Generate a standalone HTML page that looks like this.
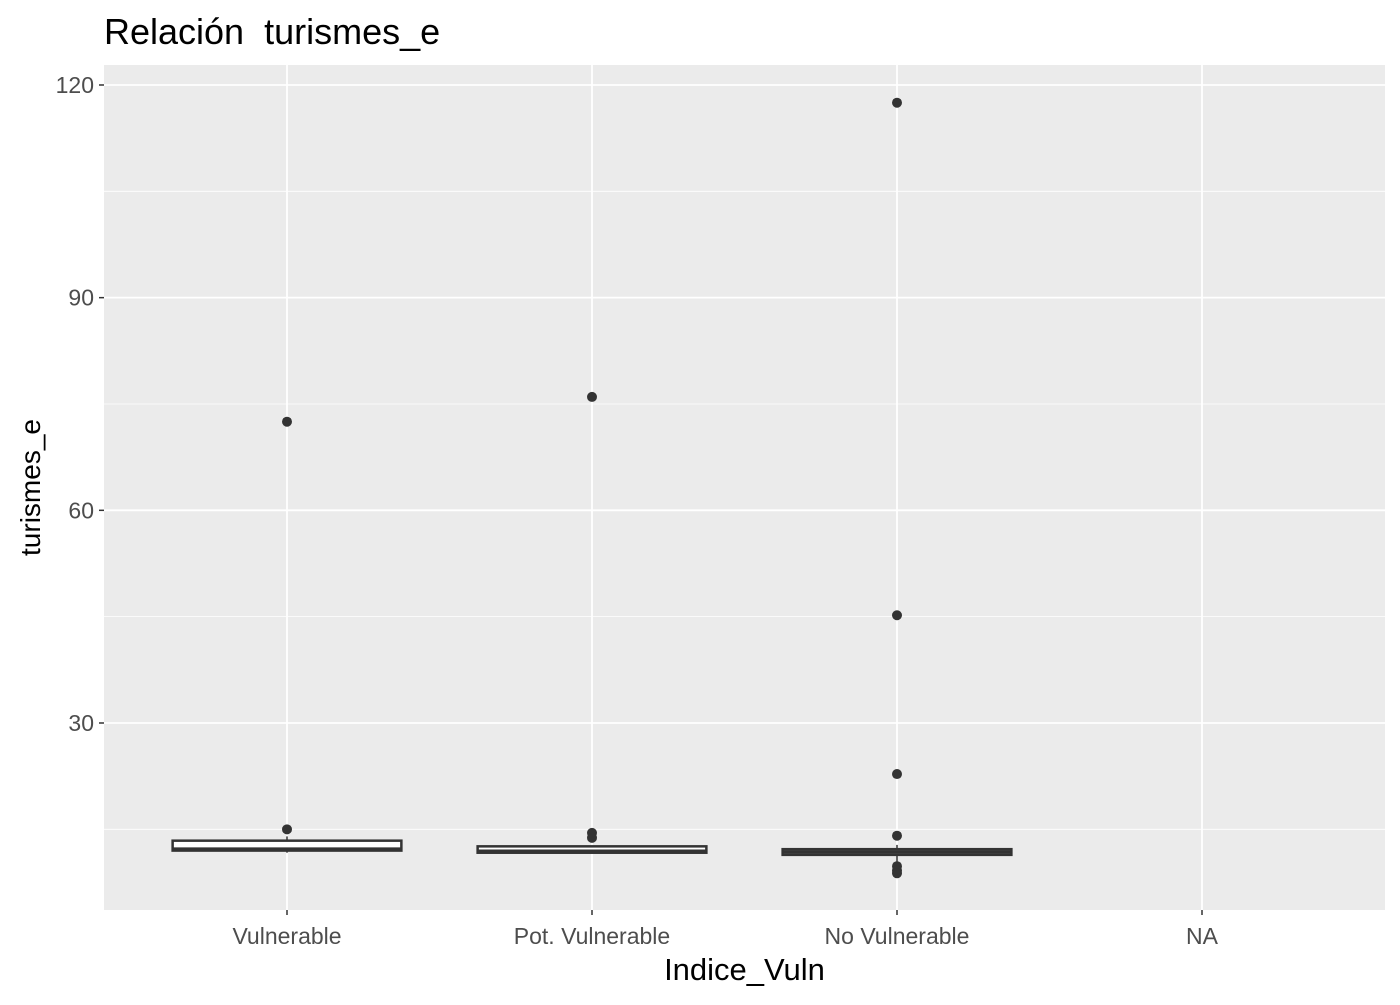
<!DOCTYPE html>
<html><head><meta charset="utf-8"><style>
body{margin:0;background:#fff}
svg text{font-family:"Liberation Sans",sans-serif}
</style></head><body>
<svg id="c" width="1400" height="1000" xmlns="http://www.w3.org/2000/svg"></svg>
<script>
const categories=["Vulnerable","Pot. Vulnerable","No Vulnerable","NA"];
const q1=[12.0,11.7,11.4,null];
const med=[12.2,11.9,11.8,null];
const q3=[13.4,12.6,12.2,null];
const whiskLo=[11.7,11.7,10.4,null];
const whiskHi=[14.0,12.6,12.8,null];
const outliers=[[15,72.5],[14.5,13.8,76],[14.1,22.8,45.2,117.5,9.8,9.2,8.8],[]];
const yTicks=[30,60,90,120];
const NS="http://www.w3.org/2000/svg";
const svg=document.getElementById('c');
const L=104,R=1385,T=65,B=910;
const yMin=3.62,yMax=122.82;
const y=v=>B-(v-yMin)/(yMax-yMin)*(B-T);
const n=categories.length;
const step=(R-L)/(n-1+1.2);
const x=i=>L+step*(0.6+i);
function el(t,a,p){const e=document.createElementNS(NS,t);for(const k in a)e.setAttribute(k,a[k]);(p||svg).appendChild(e);return e;}
const panel=el('rect',{x:L,y:T,width:R-L,height:B-T,fill:'#EBEBEB'});


const grid=el('g',{});


for(let i=0;i<yTicks.length;i++){const m=yTicks[i]-15;if(m>yMin)el('line',{x1:L,x2:R,y1:y(m),y2:y(m),stroke:'#fff','stroke-width':0.8},grid);}
yTicks.forEach(v=>{
 el('line',{x1:L,x2:R,y1:y(v),y2:y(v),stroke:'#fff','stroke-width':1.8},grid);
 el('line',{x1:L-5,x2:L,y1:y(v),y2:y(v),stroke:'#333','stroke-width':1.5});
 const t=el('text',{x:L-10,y:y(v)+8,'text-anchor':'end','font-size':23,fill:'#4D4D4D'});t.textContent=v;
 
 
});
categories.forEach((c,i)=>{
 el('line',{x1:x(i),x2:x(i),y1:T,y2:B,stroke:'#fff','stroke-width':1.8},grid);
 el('line',{x1:x(i),x2:x(i),y1:B,y2:B+5,stroke:'#333','stroke-width':1.5});
 const t=el('text',{x:x(i),y:B+34,'text-anchor':'middle','font-size':23,fill:'#4D4D4D'});t.textContent=c;
 
 
 if(q1[i]==null)return;
 const g=el('g',{});
 
 
 const w=step*0.75;
 el('line',{x1:x(i),x2:x(i),y1:y(whiskHi[i]),y2:y(q3[i]),stroke:'#333','stroke-width':1.5},g);
 el('line',{x1:x(i),x2:x(i),y1:y(q1[i]),y2:y(whiskLo[i]),stroke:'#333','stroke-width':1.5},g);
 el('rect',{x:x(i)-w/2,y:y(q3[i]),width:w,height:y(q1[i])-y(q3[i]),fill:'#fff',stroke:'#333','stroke-width':2.5},g);
 el('line',{x1:x(i)-w/2,x2:x(i)+w/2,y1:y(med[i]),y2:y(med[i]),stroke:'#333','stroke-width':3.5},g);
 outliers[i].forEach(v=>{const p=el('circle',{cx:x(i),cy:y(v),r:5,fill:'#333'},g);
  
  });
});
const t1=el('text',{x:104,y:44,'font-size':36,fill:'#000'});t1.textContent='Relación\u00a0 turismes_e';


const t2=el('text',{x:(L+R)/2,y:980,'text-anchor':'middle','font-size':31,fill:'#000'});t2.textContent='Indice_Vuln';


const t3=el('text',{x:0,y:0,'text-anchor':'middle','font-size':28,fill:'#000',transform:`translate(40,${(T+B)/2}) rotate(-90)`});t3.textContent='turismes_e';


</script>
</body></html>
